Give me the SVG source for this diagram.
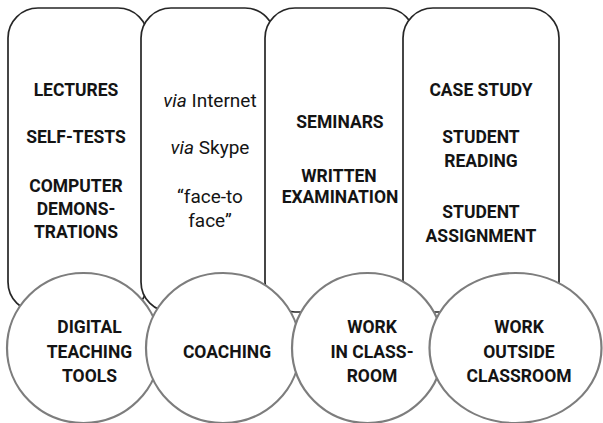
<svg xmlns="http://www.w3.org/2000/svg" width="603" height="423" viewBox="0 0 603 423">
  <style>
    .col { fill: #ffffff; stroke: #262626; stroke-width: 1.7; }
    .hub { fill: #ffffff; stroke: #7d7d7d; stroke-width: 2.2; }
    text { font-family: Roboto, "Liberation Sans", Arial, sans-serif; fill: #141414; text-anchor: middle; }
    .b { font-weight: bold; font-size: 17.5px; }
    .r { font-weight: normal; font-size: 19px; }
    .i { font-style: italic; }
  </style>
  <rect width="603" height="423" fill="#ffffff"/>

  <!-- columns of teaching activities -->
  <g id="col-digital">
    <rect class="col" x="8" y="8" width="140" height="304" rx="30" ry="30"/>
    <text class="b" x="76" y="96">LECTURES</text>
    <text class="b" x="76" y="143">SELF-TESTS</text>
    <text class="b" x="76" y="192">COMPUTER</text>
    <text class="b" x="76" y="215">DEMONS-</text>
    <text class="b" x="76" y="238">TRATIONS</text>
  </g>
  <g id="col-coaching">
    <rect class="col" x="141" y="8" width="134" height="304" rx="30" ry="30"/>
    <text class="r" x="210" y="107"><tspan class="i">via</tspan> Internet</text>
    <text class="r" x="210" y="154"><tspan class="i">via</tspan> Skype</text>
    <text class="r" x="210" y="203">“face-to</text>
    <text class="r" x="210" y="227">face”</text>
  </g>
  <g id="col-classroom">
    <rect class="col" x="265" y="8" width="150" height="304" rx="30" ry="30"/>
    <text class="b" x="340" y="128">SEMINARS</text>
    <text class="b" x="339" y="182">WRITTEN</text>
    <text class="b" x="340" y="203">EXAMINATION</text>
  </g>
  <g id="col-outside">
    <rect class="col" x="403" y="8" width="156" height="304" rx="30" ry="30"/>
    <text class="b" x="481" y="96">CASE STUDY</text>
    <text class="b" x="481" y="143">STUDENT</text>
    <text class="b" x="481" y="167">READING</text>
    <text class="b" x="481" y="218">STUDENT</text>
    <text class="b" x="481" y="242">ASSIGNMENT</text>
  </g>

  <!-- hubs along the bottom -->
  <g id="hub-digital">
    <ellipse class="hub" cx="83.5" cy="348" rx="76.5" ry="75"/>
    <text class="b" x="89.5" y="333">DIGITAL</text>
    <text class="b" x="89.5" y="358">TEACHING</text>
    <text class="b" x="89.5" y="382">TOOLS</text>
  </g>
  <g id="hub-coaching">
    <ellipse class="hub" cx="223" cy="348" rx="77" ry="75"/>
    <text class="b" x="227" y="358">COACHING</text>
  </g>
  <g id="hub-classroom">
    <ellipse class="hub" cx="367.5" cy="348" rx="75.5" ry="75"/>
    <text class="b" x="372" y="333">WORK</text>
    <text class="b" x="372" y="358">IN CLASS-</text>
    <text class="b" x="372" y="382">ROOM</text>
  </g>
  <g id="hub-outside">
    <ellipse class="hub" cx="515.5" cy="348" rx="86" ry="75"/>
    <text class="b" x="519" y="333">WORK</text>
    <text class="b" x="519" y="358">OUTSIDE</text>
    <text class="b" x="519" y="382">CLASSROOM</text>
  </g>
</svg>
